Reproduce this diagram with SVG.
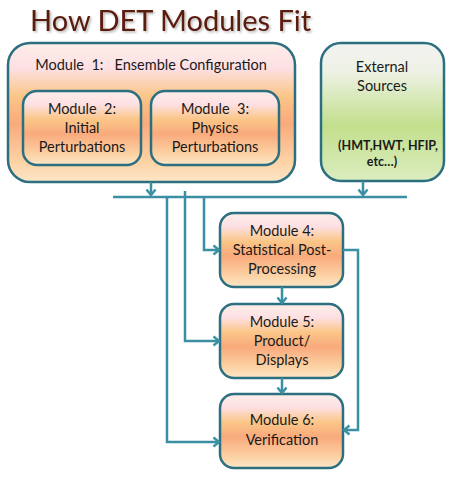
<svg xmlns="http://www.w3.org/2000/svg" width="450" height="479" viewBox="0 0 450 479">
<defs>
<linearGradient id="og" x1="0" y1="0" x2="0" y2="1">
<stop offset="0" stop-color="#fdeee8"/>
<stop offset="0.18" stop-color="#fde0e4"/>
<stop offset="0.38" stop-color="#fbc688"/>
<stop offset="0.58" stop-color="#f9aa7c"/>
<stop offset="0.85" stop-color="#fcd2a4"/>
<stop offset="1" stop-color="#fde6c8"/>
</linearGradient>
<linearGradient id="gg" x1="0" y1="0" x2="0" y2="1">
<stop offset="0" stop-color="#f2f2f0"/>
<stop offset="0.2" stop-color="#eef2e6"/>
<stop offset="0.6" stop-color="#c2df8c"/>
<stop offset="1" stop-color="#dcedc0"/>
</linearGradient>
<filter id="sh" x="-10%" y="-10%" width="130%" height="140%">
<feDropShadow dx="1.5" dy="1.5" stdDeviation="1" flood-color="#000" flood-opacity="0.3"/>
</filter>
<marker id="ah" viewBox="0 0 10 10" refX="9" refY="5" markerWidth="10" markerHeight="10" markerUnits="userSpaceOnUse" orient="auto" overflow="visible">
<path d="M3.5,0.5 L9,5 L3.5,9.5" fill="none" stroke="#3a8fa3" stroke-width="2.4"/>
</marker>
</defs>
<style>
.box{stroke:#2b6f80;stroke-width:2.5;fill:url(#og)}
.gbox{stroke:#2b6f80;stroke-width:2.5;fill:url(#gg)}
.t{font-family:Lato,"Open Sans","Liberation Sans",sans-serif;font-size:14.5px;fill:#1a1a1a;text-anchor:middle;white-space:pre}
.s{font-family:Lato,"Open Sans","Liberation Sans",sans-serif;font-size:12.5px;font-weight:bold;fill:#1a1a1a;text-anchor:middle}
.c{fill:none;stroke:#3a8fa3;stroke-width:2.5}
</style>
<text x="30" y="31" font-family="Lato,'Open Sans','Liberation Sans',sans-serif" font-size="29" fill="#5a1a10" filter="url(#sh)">How DET Modules Fit</text>
<g id="module1">
<rect class="box" x="8" y="43" width="287" height="139" rx="22"/>
<text class="t" x="151" y="70" xml:space="preserve">Module  1:   Ensemble Configuration</text>
</g>
<g id="module2">
<rect class="box" x="23" y="91" width="118" height="74" rx="14"/>
<text class="t" x="82" y="114" xml:space="preserve">Module  2:</text>
<text class="t" x="82" y="133">Initial</text>
<text class="t" x="82" y="152">Perturbations</text>
</g>
<g id="module3">
<rect class="box" x="151" y="91" width="128" height="74" rx="14"/>
<text class="t" x="215" y="114" xml:space="preserve">Module  3:</text>
<text class="t" x="215" y="133">Physics</text>
<text class="t" x="215" y="152">Perturbations</text>
</g>
<g id="external">
<rect class="gbox" x="321" y="43" width="123" height="138" rx="20"/>
<text class="t" x="382" y="72">External</text>
<text class="t" x="382" y="91">Sources</text>
<text class="s" x="388" y="150">(HMT,HWT, HFIP,</text>
<text class="s" x="382" y="166">etc…)</text>
</g>
<g id="module4">
<rect class="box" x="220" y="213" width="123" height="74" rx="14"/>
<text class="t" x="282" y="236">Module 4:</text>
<text class="t" x="282" y="255">Statistical Post-</text>
<text class="t" x="282" y="274">Processing</text>
</g>
<g id="module5">
<rect class="box" x="220" y="304" width="123" height="74" rx="14"/>
<text class="t" x="282" y="327">Module 5:</text>
<text class="t" x="282" y="346">Product/</text>
<text class="t" x="282" y="365">Displays</text>
</g>
<g id="module6">
<rect class="box" x="220" y="394" width="123" height="74" rx="14"/>
<text class="t" x="282" y="425">Module 6:</text>
<text class="t" x="282" y="445">Verification</text>
</g>
<g id="connectors">
<line class="c" x1="113" y1="197" x2="407" y2="197"/>
<line class="c" x1="151" y1="182" x2="151" y2="195" marker-end="url(#ah)"/>
<line class="c" x1="363" y1="181" x2="363" y2="195" marker-end="url(#ah)"/>
<polyline class="c" points="167,197 167,442 219,442" marker-end="url(#ah)"/>
<polyline class="c" points="185,191 185,341 219,341" marker-end="url(#ah)"/>
<polyline class="c" points="204,197 204,250 219,250" marker-end="url(#ah)"/>
<line class="c" x1="282" y1="287" x2="282" y2="303" marker-end="url(#ah)"/>
<line class="c" x1="282" y1="378" x2="282" y2="393" marker-end="url(#ah)"/>
<polyline class="c" points="343,250 358,250 358,430 344,430" marker-end="url(#ah)"/>
</g>
</svg>
